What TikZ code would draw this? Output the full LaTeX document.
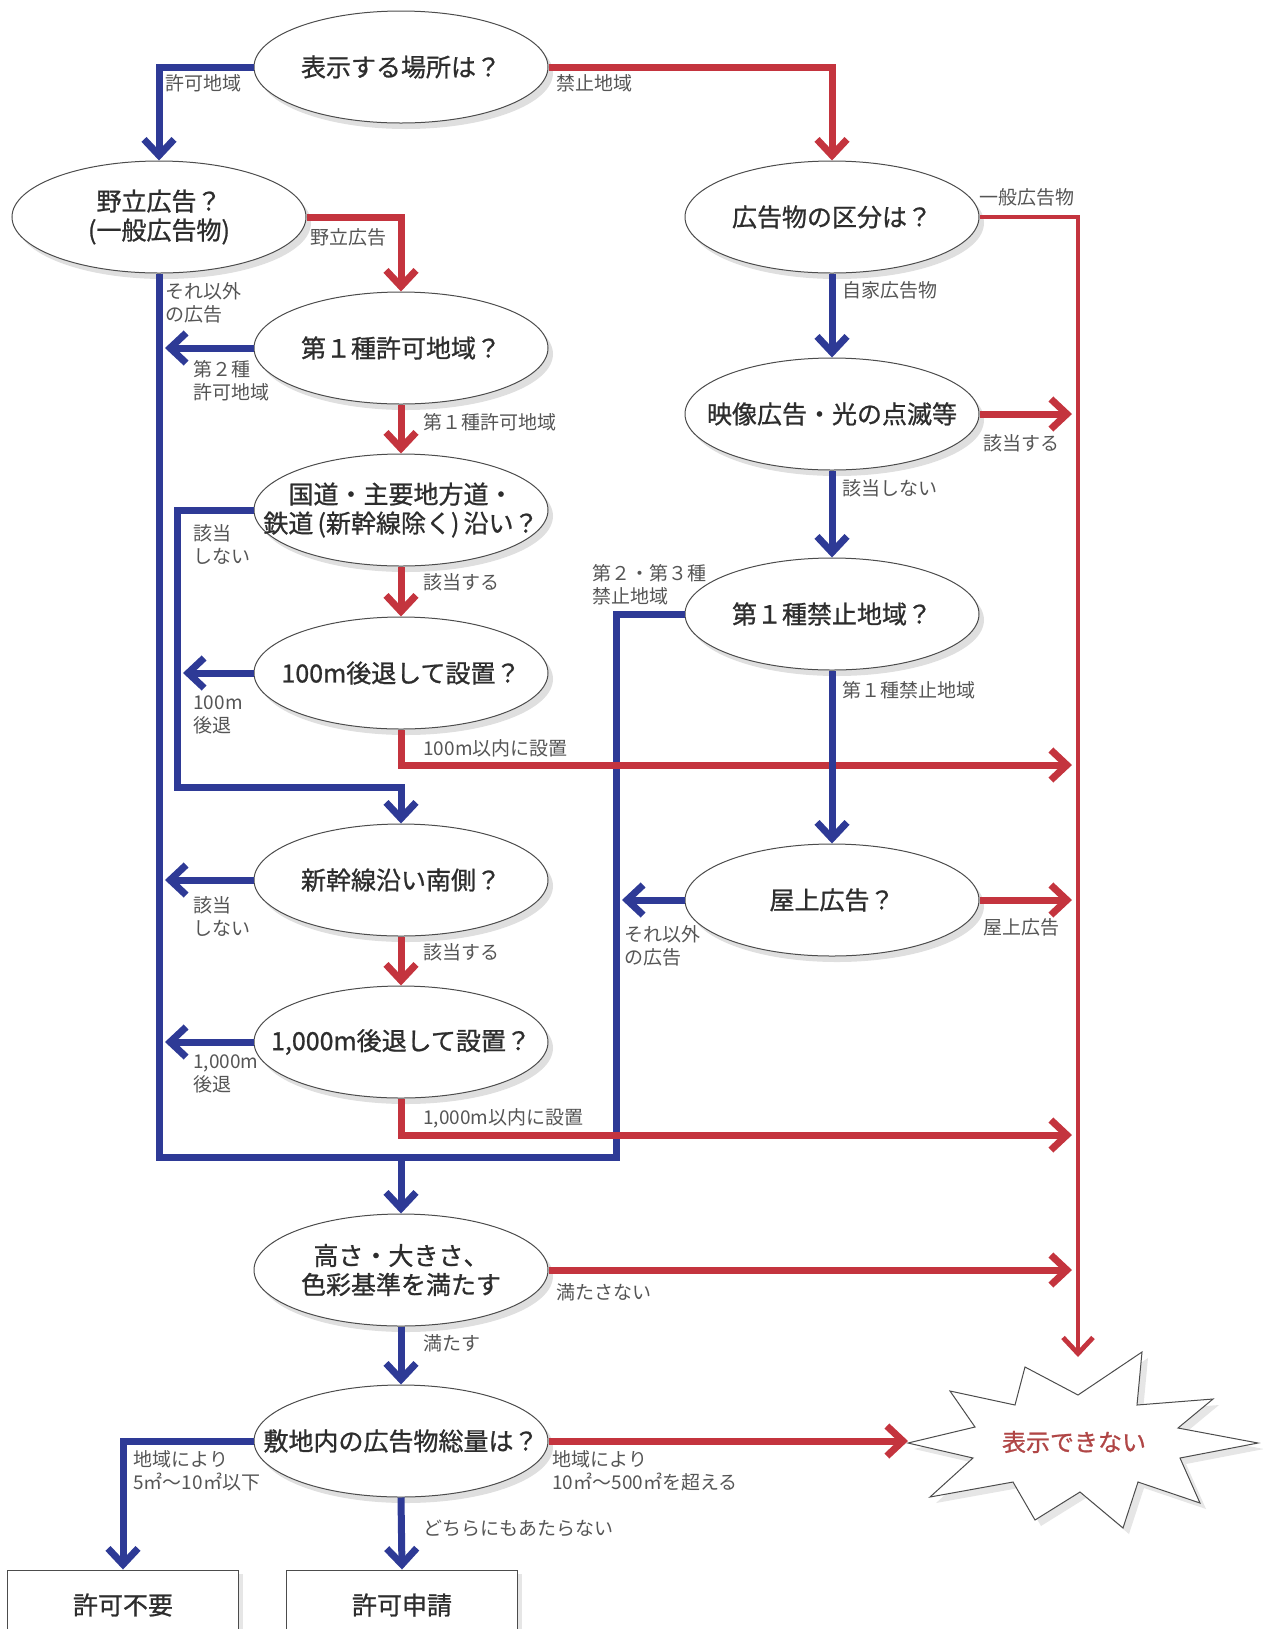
\documentclass[tikz,border=0pt]{standalone}
\usepackage{fontspec}
\setmainfont{Noto Sans CJK JP}
\newfontfamily\qfont{Noto Sans CJK JP}[FakeBold=0.9]
\usepackage{xcolor}
\usetikzlibrary{arrows.meta,shapes.geometric,shadows}

\definecolor{yesblue}{RGB}{46,58,150}
\definecolor{nored}{RGB}{196,52,62}
\definecolor{inkgray}{RGB}{45,45,45}
\definecolor{notegray}{RGB}{85,85,85}
\definecolor{burstred}{RGB}{176,70,70}

\begin{document}
\begin{tikzpicture}[x=0.5pt,y=-0.5pt]
\tikzset{question/.style={ellipse,draw=gray!60!black,line width=0.5pt,fill=white,minimum width=147pt,minimum height=56pt,inner sep=0pt,drop shadow={shadow xshift=2.5pt,shadow yshift=-3pt,opacity=0.25}}}
\tikzset{qtext/.style={text=inkgray,font=\fontsize{12.5}{14.5}\selectfont\qfont,align=center}}
\tikzset{result/.style={rectangle,draw=gray!60!black,line width=0.5pt,fill=white,minimum width=115.5pt,minimum height=35pt,drop shadow={shadow xshift=2pt,shadow yshift=-2pt,opacity=0.2},text=inkgray,font=\fontsize{12.5}{14.5}\selectfont\qfont}}
\tikzset{note/.style={anchor=west,inner sep=0pt,text=notegray,font=\fontsize{9.5}{11.5}\selectfont,align=left}}
\tikzset{blueline/.style={yesblue,line width=3.5pt}}
\tikzset{redline/.style={nored,line width=3.5pt}}
\tikzset{bluearrow/.style={blueline,-{Straight Barb[length=8pt,width=15pt]}}}
\tikzset{redarrow/.style={redline,-{Straight Barb[length=8pt,width=15pt]}}}
\tikzset{totrunk/.style={shorten >=3pt}}

\useasboundingbox (0,0) rectangle (1263,1629);
\clip (0,0) rectangle (1263,1629);

% questions
\node[question,label={[qtext]center:表示する場所は？}] (place) at (401,67) {};
\node[question,label={[qtext]center:{野立広告？\\(一般広告物)}}] (wild) at (159,217) {};
\node[question,label={[qtext]center:広告物の区分は？}] (kind) at (832,217) {};
\node[question,label={[qtext]center:第１種許可地域？}] (first) at (401,348) {};
\node[question,label={[qtext]center:映像広告・光の点滅等}] (shine) at (832,414) {};
\node[question,label={[qtext]center:{国道・主要地方道・\\鉄道\,(新幹線除く)\,沿い？}}] (road) at (401,510) {};
\node[question,label={[qtext]center:第１種禁止地域？}] (ban) at (832,614) {};
\node[question,label={[qtext]center:100m後退して設置？}] (retreat) at (401,673) {};
\node[question,label={[qtext]center:新幹線沿い南側？}] (shin) at (401,880) {};
\node[question,label={[qtext]center:屋上広告？}] (roof) at (832,900) {};
\node[question,label={[qtext]center:1,000m後退して設置？}] (far) at (401,1042) {};
\node[question,label={[qtext]center:{高さ・大きさ、\\色彩基準を満たす}}] (height) at (401,1270) {};
\node[question,label={[qtext]center:敷地内の広告物総量は？}] (total) at (401,1441) {};

% results
\node[result] (free) at (123,1605) {許可不要};
\node[result] (apply) at (402,1605) {許可申請};
\draw[gray!60!black,line width=0.5pt,fill=white,drop shadow={shadow xshift=3pt,shadow yshift=-3pt,opacity=0.2}]
  (908,1443) -- (975,1427) -- (950,1391) -- (1015,1405) -- (1025,1367) -- (1078,1395)
  -- (1142,1352) -- (1137,1405) -- (1213,1399) -- (1178,1428) -- (1258,1443) -- (1180,1458)
  -- (1200,1503) -- (1138,1482) -- (1123,1528) -- (1080,1492) -- (1035,1520) -- (1013,1482)
  -- (930,1497) -- (973,1458) -- cycle;
\node[text=burstred,font=\fontsize{12}{14}\selectfont\qfont] (nope) at (1074,1442) {表示できない};

\coordinate (trunk) at (1078,217);
\coordinate (nopetop) at (1078,1357);
\coordinate (nopeleft) at (908,1441);
\coordinate (skipA) at (177,787);
\coordinate (loopR) at (616,1157);
\coordinate (merge) at (401,1157);
\coordinate (out100) at (1078,765);
\coordinate (out1000) at (1078,1135);

% connectors
\draw[bluearrow] (place.west) -| (wild.north);
\draw[redarrow] (place.east) -| (kind.north);
\draw[redarrow] (wild.east) -| (first.north);
\draw[blueline] (wild.south) |- (loopR) |- (ban.west);
\draw[bluearrow] (merge) -- (height.north);
\draw[bluearrow,totrunk] (first.west) -- (wild.south |- first.west);
\draw[redarrow] (first.south) -- (road.north);
\draw[bluearrow] (road.west) -| (skipA) -| (shin.north);
\draw[redarrow] (road.south) -- (retreat.north);
\draw[bluearrow,totrunk] (retreat.west) -- (skipA |- retreat.west);
\draw[redarrow,totrunk] (retreat.south) |- (out100);
\draw[bluearrow,totrunk] (shin.west) -- (wild.south |- shin.west);
\draw[redarrow] (shin.south) -- (far.north);
\draw[bluearrow,totrunk] (far.west) -- (wild.south |- far.west);
\draw[redarrow,totrunk] (far.south) |- (out1000);
\draw[nored,line width=2.4pt,-{Straight Barb[length=8pt,width=15pt]}] (kind.east) -| (nopetop);
\draw[bluearrow] (kind.south) -- (shine.north);
\draw[redarrow,totrunk] (shine.east) -- (trunk |- shine.east);
\draw[bluearrow] (shine.south) -- (ban.north);
\draw[bluearrow] (ban.south) -- (roof.north);
\draw[bluearrow,totrunk] (roof.west) -- (loopR |- roof.west);
\draw[redarrow,totrunk] (roof.east) -- (trunk |- roof.east);
\draw[redarrow,totrunk] (height.east) -- (trunk |- height.east);
\draw[bluearrow] (height.south) -- (total.north);
\draw[redarrow] (total.east) -- (nopeleft);
\draw[bluearrow] (total.west) -| (free.north);
\draw[bluearrow] (total.south) -- (apply.north);

% branch notes
\node[note] (n1) at (165,83) {許可地域};
\node[note] (n2) at (556,83) {禁止地域};
\node[note] (n3) at (310,237) {野立広告};
\node[note] (n4) at (979,197) {一般広告物};
\node[note] (n5) at (165,303) {それ以外\\の広告};
\node[note] (n6) at (842,290) {自家広告物};
\node[note] (n7) at (193,381) {第２種\\許可地域};
\node[note] (n8) at (423,422) {第１種許可地域};
\node[note] (n9) at (983,443) {該当する};
\node[note] (n10) at (193,544) {該当\\しない};
\node[note] (n11) at (842,488) {該当しない};
\node[note] (n12) at (423,582) {該当する};
\node[note] (n13) at (592,585) {第２・第３種\\禁止地域};
\node[note] (n14) at (193,715) {100m\\後退};
\node[note] (n15) at (842,690) {第１種禁止地域};
\node[note] (n16) at (423,748) {100m以内に設置};
\node[note] (n17) at (193,916) {該当\\しない};
\node[note] (n18) at (624,946) {それ以外\\の広告};
\node[note] (n19) at (983,927) {屋上広告};
\node[note] (n20) at (423,952) {該当する};
\node[note] (n21) at (193,1074) {1,000m\\後退};
\node[note] (n22) at (423,1118) {1,000m以内に設置};
\node[note] (n23) at (556,1292) {満たさない};
\node[note] (n24) at (423,1343) {満たす};
\node[note] (n25) at (133,1471) {地域により\\5㎡～10㎡以下};
\node[note] (n26) at (552,1471) {地域により\\10㎡～500㎡を超える};
\node[note] (n27) at (423,1528) {どちらにもあたらない};
\end{tikzpicture}
\end{document}
